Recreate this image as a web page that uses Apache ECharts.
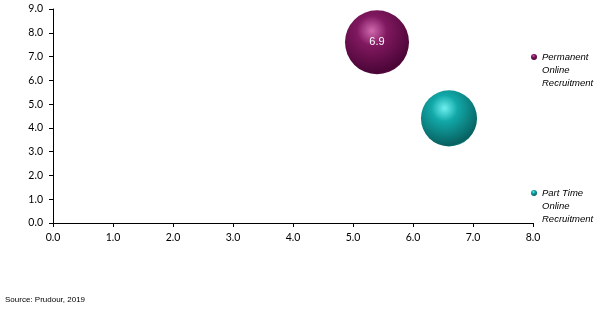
<!DOCTYPE html>
<html>
<head>
<meta charset="utf-8">
<script src="https://cdn.jsdelivr.net/npm/echarts@6/dist/echarts.min.js"></script>
<style>html,body{margin:0;padding:0;background:#fff;}#c{width:602px;height:309px;}</style>
</head>
<body>
<div id="c"></div>
<script>
const seriesNames = ['Permanent Online Recruitment', 'Part Time Online Recruitment'];
const legendLabels = ['Permanent\nOnline\nRecruitment', 'Part Time\nOnline\nRecruitment'];
const xValues = [5.4, 6.6];
const yValues = [7.6, 4.4];
const bubbleSizes = [6.9, 5.3];
const showLabel = [true, false];
const xTicks = [0, 1, 2, 3, 4, 5, 6, 7, 8];
const yTicks = [0, 1, 2, 3, 4, 5, 6, 7, 8, 9];

const palettes = [
  {hi: '#d06aae', mid: '#80185f', dark: '#4a0536', rim: '#862468'},
  {hi: '#6ff0f0', mid: '#12a8a8', dark: '#086060', rim: '#1cb6b6'}
];
function sphere(p) {
  return new echarts.graphic.RadialGradient(0.42, 0.32, 0.78, [
    {offset: 0, color: p.hi},
    {offset: 0.3, color: p.mid},
    {offset: 0.85, color: p.dark},
    {offset: 1, color: p.rim}
  ]);
}
const chart = echarts.init(document.getElementById('c'), null, {renderer: 'canvas'});
const labelMap = {};
seriesNames.forEach((n, i) => labelMap[n] = legendLabels[i]);

const series = seriesNames.map((n, i) => ({
  name: n,
  type: 'scatter',
  data: [[xValues[i], yValues[i], bubbleSizes[i]]],
  symbolSize: d => 64 * Math.sqrt(d[2] / 6.9),
  itemStyle: {color: sphere(palettes[i]), opacity: 1},
  label: {
    show: showLabel[i], position: 'inside', color: '#fff',
    fontFamily: 'Liberation Sans', fontSize: 11,
    formatter: p => p.value[2].toFixed(1)
  },
  emphasis: {disabled: true}
}));

const legendIconY = [57, 193];
const legends = seriesNames.map((n, i) => ({
  data: [n],
  orient: 'vertical',
  left: 531,
  top: legendIconY[i] - 32.5,
  padding: 0,
  icon: 'circle',
  itemWidth: 6,
  itemHeight: 6,
  selectedMode: false,
  formatter: name => ' \n \n' + labelMap[name],
  textStyle: {
    fontFamily: 'Liberation Sans', fontStyle: 'italic', fontSize: 9.5,
    color: '#000', lineHeight: 13
  }
}));

chart.setOption({
  animation: false,
  backgroundColor: '#fff',
  grid: {left: 53, right: 69, top: 9, bottom: 86},
  xAxis: {
    type: 'value', min: 0, max: 8, interval: 1,
    splitLine: {show: false},
    axisLine: {show: true, lineStyle: {color: '#000', width: 1}},
    axisTick: {show: true, length: 4, lineStyle: {color: '#000'}},
    axisLabel: {margin: 9, color: '#000', fontFamily: 'Lato', fontSize: 10.5, formatter: v => v.toFixed(1)}
  },
  yAxis: {
    type: 'value', min: 0, max: 9, interval: 1,
    splitLine: {show: false},
    axisLine: {show: true, lineStyle: {color: '#000', width: 1}},
    axisTick: {show: true, length: 4, lineStyle: {color: '#000'}},
    axisLabel: {margin: 10, color: '#000', fontFamily: 'Lato', fontSize: 10.5, formatter: v => v.toFixed(1)}
  },
  legend: legends,
  graphic: [{
    type: 'text', left: 5, top: 296,
    style: {text: 'Source: Prudour, 2019', fontFamily: 'Liberation Sans', fontSize: 8, fill: '#000'}
  }],
  series: series
});
</script>
</body>
</html>
